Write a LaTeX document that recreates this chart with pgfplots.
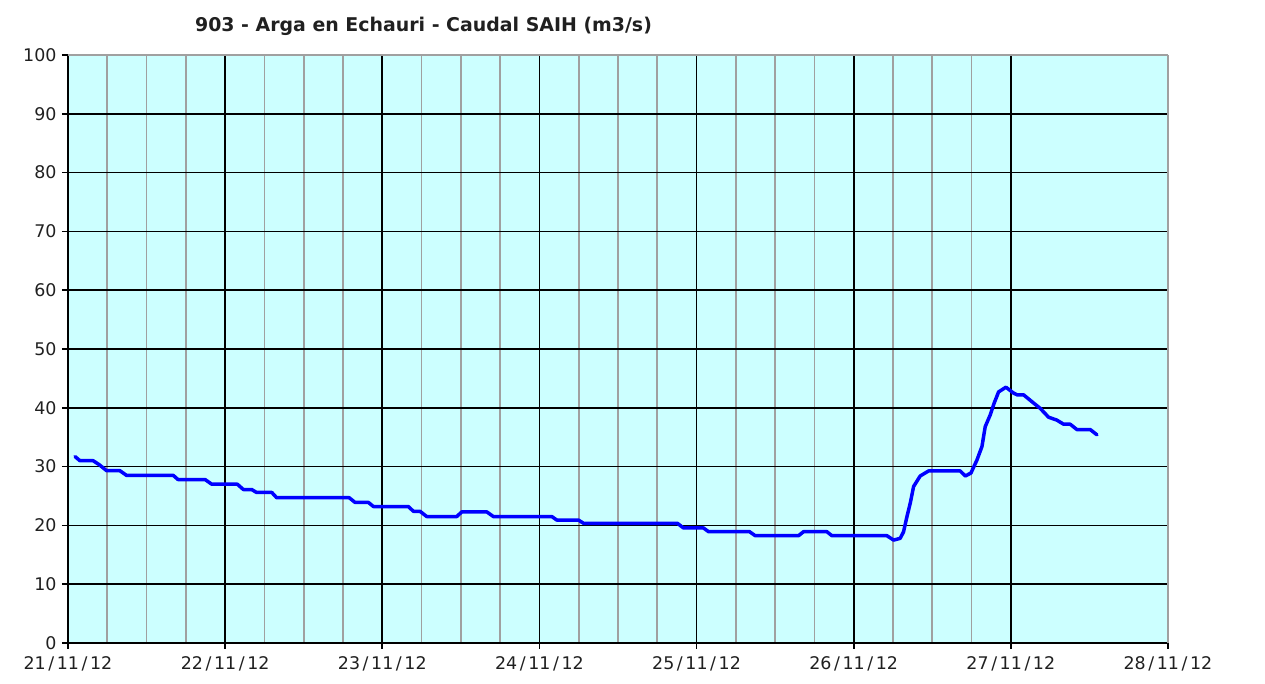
\documentclass[border=0pt]{standalone}
\usepackage{pgfplots}
\pgfplotsset{compat=1.18}
\usepackage{fontspec}
\setmainfont{DejaVu Sans}
\definecolor{bgc}{HTML}{CCFFFF}
\definecolor{gridg}{HTML}{A0A0A0}
\definecolor{lineb}{HTML}{0000FF}
\definecolor{txt}{HTML}{202020}
\newcommand{\dsl}{\kern2.6bp/\kern2.6bp}
\begin{document}
\begin{tikzpicture}
\begin{axis}[
 width=1100bp, height=588bp, scale only axis,
 xmin=0, xmax=7, ymin=0, ymax=100,
 axis x line*=bottom, axis y line*=left,
 axis line style={black, line width=1.8bp, -},
 xtick={0,...,6},
 xticklabels={21\dsl11\dsl12,22\dsl11\dsl12,23\dsl11\dsl12,24\dsl11\dsl12,25\dsl11\dsl12,26\dsl11\dsl12,27\dsl11\dsl12},
 extra x ticks={7}, extra x tick labels={28\dsl11\dsl12},
 extra x tick style={major grid style={gridg, line width=1.8bp}},
 ytick={0,10,...,90},
 extra y ticks={100},
 extra y tick style={major grid style={gridg, line width=1.8bp}},
 minor x tick num=3,
 grid=both,
 major grid style={black, line width=1.6bp},
 minor grid style={gridg, line width=1.8bp},
 tick align=outside, major tick length=6bp, minor tick length=0pt,
 tick style={black, line width=1.6bp},
 axis background/.style={fill=bgc},
 ticklabel style={font=\fontsize{17.5}{20}\selectfont, text=txt},
 xticklabel style={yshift=-4bp},
 yticklabel style={xshift=-2bp},
 /pgf/number format/assume math mode=true,
 clip=false,
]
\addplot[lineb, line width=3.5bp, line join=round, line cap=round] coordinates {
(0.045,31.7)(0.076,31.0)(0.16,31.0)(0.20,30.3)(0.246,29.3)(0.33,29.3)(0.373,28.5)(0.67,28.5)
(0.70,27.8)(0.872,27.8)(0.915,27.0)(1.078,27.0)(1.116,26.1)(1.169,26.1)(1.20,25.6)(1.297,25.6)
(1.328,24.7)(1.79,24.7)(1.827,23.9)(1.912,23.9)(1.944,23.2)(2.166,23.2)(2.198,22.4)(2.24,22.4)
(2.283,21.5)(2.474,21.5)(2.506,22.3)(2.665,22.3)(2.707,21.5)(3.079,21.5)(3.111,20.9)(3.249,20.9)
(3.281,20.35)(3.878,20.35)(3.917,19.56)(4.044,19.56)(4.076,18.93)(4.337,18.93)(4.373,18.25)(4.649,18.25)
(4.681,18.93)(4.829,18.93)(4.861,18.25)(5.211,18.25)(5.254,17.5)(5.296,17.8)(5.317,18.9)(5.339,21.5)
(5.36,23.8)(5.381,26.6)(5.423,28.4)(5.476,29.25)(5.678,29.25)(5.71,28.4)(5.746,28.9)(5.784,31.1)
(5.816,33.4)(5.837,36.8)(5.869,38.8)(5.894,40.8)(5.922,42.7)(5.969,43.5)(6.017,42.5)(6.04,42.2)
(6.081,42.2)(6.145,40.8)(6.187,39.9)(6.24,38.4)(6.293,37.9)(6.336,37.2)(6.378,37.2)(6.42,36.3)
(6.505,36.3)(6.548,35.4)
};
\node[font=\bfseries\fontsize{19}{22}\selectfont, text=txt, anchor=base] at (rel axis cs:0.3232,1.0396) {903 - Arga en Echauri - Caudal SAIH (m3/s)};
\coordinate (bl) at (rel axis cs:-0.0618,-0.0697);
\coordinate (tr) at (rel axis cs:1.0882,1.0935);
\end{axis}
\pgfresetboundingbox
\useasboundingbox (bl) rectangle (tr);
\end{tikzpicture}
\end{document}
